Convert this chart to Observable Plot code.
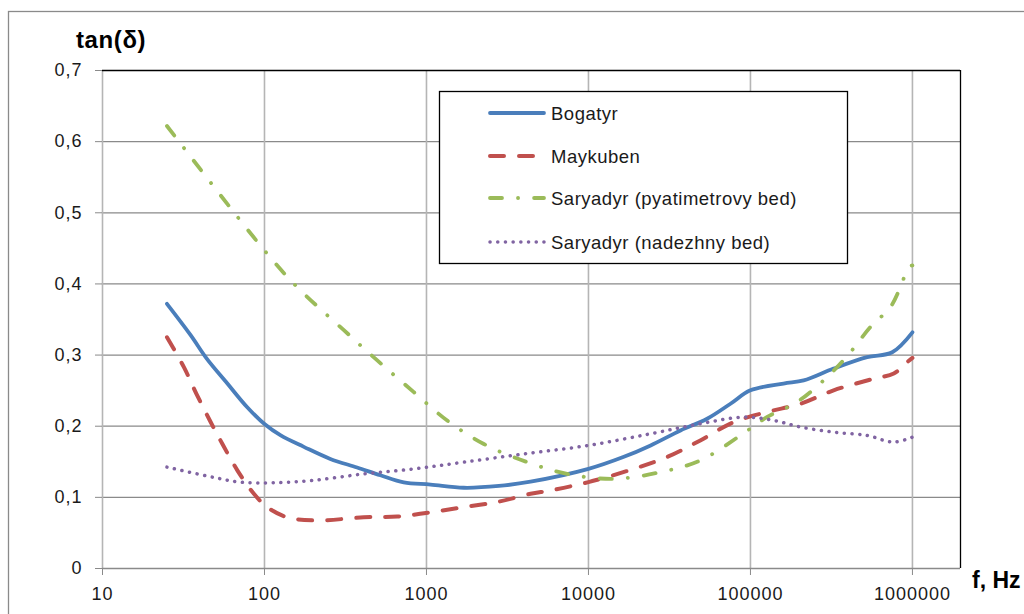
<!DOCTYPE html>
<html><head><meta charset="utf-8">
<script src="https://cdn.jsdelivr.net/npm/d3@7"></script>
<script src="https://cdn.jsdelivr.net/npm/@observablehq/plot@0.6"></script>
<style>body{margin:0;background:#fff;overflow:hidden} svg{display:block} svg [aria-label$="tick label"] text{letter-spacing:1px}</style>
</head><body><div id="chart"></div>
<script>
// ---- data ----
const seriesNames = ["Bogatyr", "Maykuben", "Saryadyr (pyatimetrovy bed)", "Saryadyr (nadezhny bed)"];
const xTicks = [10, 100, 1000, 10000, 100000, 1000000];
const yTicks = [0, 0.1, 0.2, 0.3, 0.4, 0.5, 0.6, 0.7];
const xMax = 1.98e6;

const bogatyrF = [25, 35, 44, 59, 78, 100, 126, 175, 255, 373, 520, 724, 1060, 1700, 2800, 4390, 10000, 16400, 24200, 37000, 54000, 75300, 100000, 160000, 213000, 326000, 525000, 750000, 1000000];
const bogatyrV = [0.372, 0.328, 0.295, 0.260, 0.227, 0.203, 0.187, 0.171, 0.154, 0.142, 0.131, 0.121, 0.118, 0.1135, 0.116, 0.122, 0.140, 0.1566, 0.173, 0.194, 0.2105, 0.2316, 0.2504, 0.260, 0.2644, 0.281, 0.297, 0.304, 0.332];

const maykubenF = [25, 31.8, 38, 46, 55, 68, 86, 104, 138, 211, 410, 660, 1060, 1700, 2800, 4390, 5820, 10000, 19000, 30500, 49000, 78900, 126800, 204000, 326000, 577000, 767000, 927000, 1000000];
const maykubenV = [0.325, 0.283, 0.2456, 0.208, 0.175, 0.138, 0.105, 0.0862, 0.072, 0.0675, 0.072, 0.073, 0.079, 0.0862, 0.094, 0.105, 0.1097, 0.1214, 0.140, 0.1566, 0.180, 0.2058, 0.220, 0.2316, 0.2504, 0.2668, 0.274, 0.290, 0.296];

const pyatF = [25, 100, 159, 309, 497, 835, 1343, 2260, 4190, 7380, 14300, 27800, 49100, 86700, 127000, 194000, 297000, 414000, 550000, 731000, 843000, 949000, 1000000];
const pyatV = [0.622, 0.447, 0.3956, 0.335, 0.2925, 0.248, 0.208, 0.175, 0.1495, 0.133, 0.126, 0.1354, 0.152, 0.187, 0.213, 0.234, 0.269, 0.304, 0.3394, 0.3675, 0.3956, 0.4238, 0.426];

const nadezF = [25, 48.6, 71, 114, 202, 410, 835, 1700, 3980, 10000, 24200, 49100, 91000, 140000, 204000, 326000, 525000, 767000, 1000000];
const nadezV = [0.1425, 0.128, 0.1214, 0.1205, 0.124, 0.133, 0.140, 0.1495, 0.161, 0.173, 0.1894, 0.2035, 0.2128, 0.208, 0.1988, 0.1917, 0.187, 0.1776, 0.1847];

const colors = ["#4a7ebb", "#c0504d", "#9bbb59", "#8064a2"];
const dashes = [null, "14,15", "12,16,0.1,16", "0.1,7.6"];
const widths = [3.8, 4, 3.8, 3.5];

const toRows = (fs, vs, s) => fs.map((f, i) => ({f, v: vs[i], s}));
const series = [
  toRows(bogatyrF, bogatyrV, seriesNames[0]),
  toRows(maykubenF, maykubenV, seriesNames[1]),
  toRows(pyatF, pyatV, seriesNames[2]),
  toRows(nadezF, nadezV, seriesNames[3])
];

const font = "'Liberation Sans', Arial, sans-serif";

const lineMarks = series.map((rows, i) => Plot.line(rows, {
  x: "f", y: "v", stroke: colors[i], strokeWidth: widths[i],
  strokeDasharray: dashes[i] || undefined, strokeLinecap: "round", strokeLinejoin: "round",
  curve: "catmull-rom"
}));

const plot = Plot.plot({
  width: 1024, height: 614,
  marginLeft: 102, marginRight: 64, marginTop: 70, marginBottom: 46,
  style: {fontFamily: font, fontSize: "18px", color: "#1a1a1a", background: "#fff"},
  x: {type: "log", domain: [10, xMax]},
  y: {domain: [0, 0.7]},
  marks: [
    Plot.gridY(yTicks.filter(d => d > 0 && d < 0.7), {stroke: "#8a8a8a", strokeOpacity: 1, strokeWidth: 1.3}),
    Plot.gridX(xTicks, {stroke: "#b5b5b5", strokeOpacity: 1, strokeWidth: 1.6}),
    Plot.ruleY([0], {stroke: "#8a8a8a", strokeWidth: 1.3}),
    Plot.ruleY([0.7], {stroke: "#000", strokeWidth: 1.3}),
    Plot.ruleX([xMax], {stroke: "#000", strokeWidth: 1.3}),
    Plot.axisX({ticks: xTicks, tickFormat: d => String(d), tickSize: 7, tickPadding: 12, stroke: "#8a8a8a", label: null, fontSize: 18}),
    Plot.axisY({ticks: yTicks, tickFormat: d => d === 0 ? "0" : d3.format(".1f")(d).replace(".", ","), tickSize: 7, tickPadding: 13, stroke: "#8a8a8a", label: null, fontSize: 18}),
    ...lineMarks
  ]
});

document.getElementById("chart").appendChild(plot);
const svg = d3.select(plot);

// outer chart border
svg.insert("rect", ":first-child").attr("x", 8.5).attr("y", 11.5).attr("width", 1100).attr("height", 700)
  .attr("fill", "none").attr("stroke", "#8a8a8a").attr("stroke-width", 1.3);

// axis titles
svg.append("text").attr("x", 76).attr("y", 48).attr("text-anchor", "start").attr("font-family", font).attr("font-weight", "bold")
  .attr("font-size", 24).attr("letter-spacing", 0.6).attr("fill", "#000").text("tan(δ)");
svg.append("text").attr("x", 972).attr("y", 588).attr("text-anchor", "start").attr("font-family", font).attr("font-weight", "bold")
  .attr("font-size", 23).attr("fill", "#000").text("f, Hz");

// legend
const lg = svg.append("g");
lg.append("rect").attr("x", 439.5).attr("y", 91.5).attr("width", 408).attr("height", 172)
  .attr("fill", "#fff").attr("stroke", "#000").attr("stroke-width", 1.3);
const rowY = [113, 156, 198, 242];
seriesNames.forEach((name, i) => {
  lg.append("line").attr("x1", 490).attr("x2", 544).attr("y1", rowY[i]).attr("y2", rowY[i])
    .attr("stroke", colors[i]).attr("stroke-width", widths[i]).attr("stroke-linecap", "round")
    .attr("stroke-dasharray", dashes[i]);
  lg.append("text").attr("x", 551).attr("y", rowY[i] + 6.5).attr("text-anchor", "start").attr("font-family", font)
    .attr("font-size", 18.5).attr("letter-spacing", 0.5).attr("fill", "#1a1a1a").text(name);
});
</script>
</body></html>
